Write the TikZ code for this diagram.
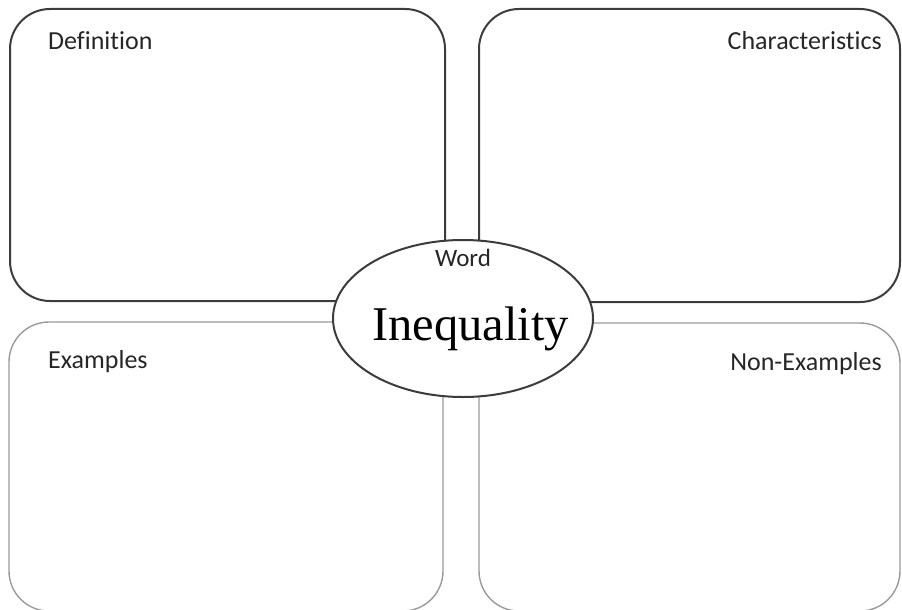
\documentclass[tikz,border=0pt]{standalone}
\usepackage{fontspec}
\setmainfont[Ligatures=NoCommon]{Carlito}
\newfontfamily\wordserif{Liberation Serif}
\usetikzlibrary{shapes.geometric}
\definecolor{darkline}{HTML}{3C3C3C}
\definecolor{lightline}{HTML}{9A9A9A}
\begin{document}
\begin{tikzpicture}[x=1pt,y=-1pt,
  topbox/.style={draw=darkline, line width=2pt, rounded corners=40pt, inner sep=0pt, outer sep=0pt},
  botbox/.style={draw=lightline, line width=1.4pt, rounded corners=40pt, inner sep=0pt, outer sep=0pt},
  lab/.style={font=\fontsize{26}{30}\selectfont, text=black!85, inner sep=0pt},
  wordoval/.style={ellipse, draw=darkline, line width=2pt, fill=white, minimum width=260pt, minimum height=157pt, inner sep=0pt}]
\useasboundingbox (0,0) rectangle (902,610);
\begin{scope}
\clip (0,0) rectangle (902,610);
\node[topbox, minimum width=435pt, minimum height=292pt] (def) at (227.5,155) {};
\node[topbox, minimum width=421pt, minimum height=293pt] (chr) at (689.5,155.5) {};
\node[botbox, minimum width=434pt, minimum height=289pt] (ex) at (226,466.5) {};
\node[botbox, minimum width=421pt, minimum height=288pt] (nex) at (689.5,467) {};
\end{scope}
\node[wordoval] (oval) at (463,318.5) {};
\node[lab, anchor=base west] (tdef) at (48,49) {Definition};
\node[lab, anchor=base east] (tchr) at (882,49) {Characteristics};
\node[lab, anchor=base west] (tex) at (48,368) {Examples};
\node[lab, anchor=base east] (tnex) at (882,370) {Non-Examples};
\node[lab, font=\fontsize{25}{28}\selectfont, anchor=base] (tword) at (463,266) {Word};
\node[font=\wordserif\fontsize{48.5}{52}\selectfont, anchor=base, inner sep=0pt] (tineq) at (470.5,340) {Inequality};
\end{tikzpicture}
\end{document}
